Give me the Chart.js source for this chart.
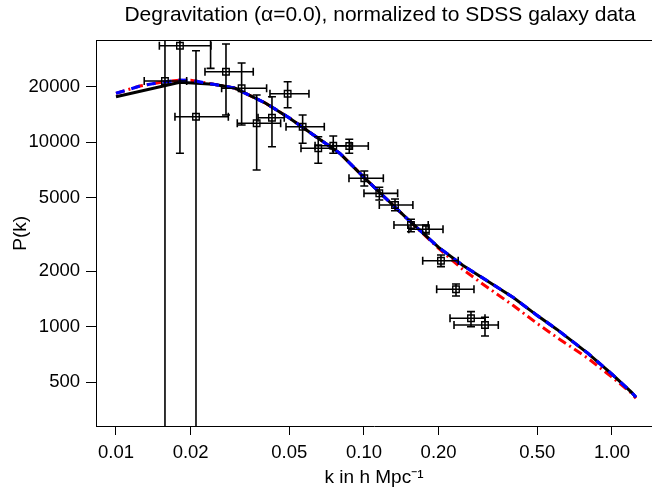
<!DOCTYPE html>
<html>
<head>
<meta charset="utf-8">
<script src="https://cdn.jsdelivr.net/npm/chart.js@4.4.1/dist/chart.umd.min.js"></script>
<style>
  html, body { margin: 0; padding: 0; background: #fff; overflow: hidden; }
  #wrap { width: 652px; height: 500px; }
  canvas { display: block; }
</style>
</head>
<body>
<div id="wrap"><canvas id="pkChart" width="652" height="500"></canvas></div>
<script>

// SDSS DATA POINTS (k, P(k) and error ranges)

const kData = [0.01576, 0.01811, 0.02102, 0.02407, 0.02777, 0.03211, 0.03692, 0.04256, 0.04923, 0.05658, 0.06541, 0.07519, 0.08723, 0.1003, 0.1153, 0.1334, 0.1547, 0.1778, 0.2044, 0.235, 0.2701, 0.3076];
const pData = [21460, 33320, 13740, 45000, 24090, 19590, 12660, 13570, 18310, 12130, 9267, 9573, 9537, 6375, 5285, 4568, 3559, 3374, 2281, 1596, 1112, 1023];
const kLo   = [0.01300, 0.01496, 0.01729, 0.0200, 0.02285, 0.02667, 0.03084, 0.0374, 0.04178, 0.04849, 0.05572, 0.0635, 0.07519, 0.0870, 0.1000, 0.1153, 0.1321, 0.1517, 0.1725, 0.1964, 0.2223, 0.2307];
const kHi   = [0.01928, 0.02415, 0.02838, 0.0290, 0.03577, 0.04050, 0.04613, 0.0477, 0.0600, 0.06918, 0.07478, 0.0887, 0.1041, 0.1197, 0.1367, 0.1575, 0.1816, 0.2083, 0.2399, 0.2777, 0.3076, 0.3480];
const pLo   = [1, 8708, 1, 25130, 14040, 12390, 7070, 9454, 15380, 9864, 7684, 8708, 8708, 5791, 4862, 4255, 3274, 3182, 2117, 1468, 1001, 891];
const pHi   = [1e6, 1e6, 31300, 1e6, 34040, 26860, 18020, 17640, 21270, 14040, 10710, 10800, 10370, 6982, 5697, 4923, 3823, 3559, 2449, 1705, 1208, 1126];

// MODEL CURVES

const curveK = [0.01, 0.0125, 0.015, 0.018, 0.02, 0.025, 0.03, 0.04, 0.05, 0.06, 0.08, 0.10, 0.12, 0.15, 0.2, 0.25, 0.3, 0.4, 0.5, 0.6, 0.8, 1.0, 1.2, 1.25];
const blueP  = [18400, 20160, 21060, 21670, 21650, 20540, 19660, 16310, 13540, 11380, 8695, 6453, 5093, 3828, 2692, 2155, 1846, 1441, 1150, 968, 718, 554, 441, 415];
const redP   = [18400, 20160, 21060, 21670, 21650, 20540, 19660, 16310, 13540, 11380, 8695, 6453, 5093, 3828, 2659, 2050, 1711, 1304, 1041, 876, 675, 534, 436, 410];

const blackK = [0.01, 0.0181, 0.0247, 0.03, 0.04, 0.05, 0.06, 0.08, 0.10, 0.12, 0.15, 0.2, 0.25, 0.3, 0.4, 0.5, 0.6, 0.8, 1.0, 1.2, 1.25];
const blackP = [17640, 21110, 20590, 19660, 16310, 13540, 11380, 8695, 6453, 5093, 3828, 2692, 2155, 1846, 1441, 1150, 968, 718, 554, 441, 415];

// AXES

const xTicks = [0.01, 0.02, 0.05, 0.10, 0.20, 0.50, 1.00];
const yTicks = [500, 1000, 2000, 5000, 10000, 20000];

const FONT = "'Liberation Sans', Arial, Helvetica, sans-serif";

function toXY(xs, ys){
  return xs.map((x, i) => ({x: x, y: ys[i]}));
}

// ERROR BARS + TOP BORDER + TITLE

const errorBars = {
  id: "errorBars",
  afterDatasetsDraw(chart){
    const ctx = chart.ctx;
    const area = chart.chartArea;
    const xs = chart.scales.x;
    const ys = chart.scales.y;
    const cap = 4;

    ctx.save();
    ctx.beginPath();
    ctx.rect(area.left, area.top, area.right - area.left, area.bottom - area.top);
    ctx.clip();
    ctx.strokeStyle = "#000";
    ctx.lineWidth = 1.6;

    kData.forEach((k, i) => {
      const px = xs.getPixelForValue(k);
      const py = ys.getPixelForValue(pData[i]);
      const x1 = xs.getPixelForValue(kLo[i]);
      const x2 = xs.getPixelForValue(kHi[i]);
      const y1 = ys.getPixelForValue(pLo[i]);
      const y2 = ys.getPixelForValue(pHi[i]);

      ctx.beginPath();
      ctx.moveTo(x1, py); ctx.lineTo(x2, py);
      ctx.moveTo(x1, py - cap); ctx.lineTo(x1, py + cap);
      ctx.moveTo(x2, py - cap); ctx.lineTo(x2, py + cap);
      ctx.moveTo(px, y1); ctx.lineTo(px, y2);
      ctx.moveTo(px - cap, y1); ctx.lineTo(px + cap, y1);
      ctx.moveTo(px - cap, y2); ctx.lineTo(px + cap, y2);
      ctx.stroke();
    });
    ctx.restore();
  },
  afterDraw(chart){
    const ctx = chart.ctx;
    const area = chart.chartArea;
    ctx.save();
    ctx.strokeStyle = "#000";
    ctx.lineWidth = 1;
    ctx.beginPath();
    ctx.moveTo(area.left, area.top);
    ctx.lineTo(area.right, area.top);
    ctx.stroke();

    ctx.fillStyle = "#000";
    ctx.font = "21px " + FONT;
    ctx.textAlign = "center";
    ctx.textBaseline = "alphabetic";
    ctx.fillText("Degravitation (\u03b1=0.0), normalized to SDSS galaxy data", 380, 21);
    ctx.restore();
  }
};

// no extra label padding, the plot box goes to the right edge
function noPad(scale){
  scale.paddingLeft = 0;
  scale.paddingRight = 0;
  scale.paddingTop = 0;
  scale.paddingBottom = 0;
}

const ctx = document.getElementById("pkChart");

new Chart(ctx, {
  type: "scatter",
  data: {
    datasets: [
      {
        label: "SDSS",
        data: toXY(kData, pData),
        showLine: false,
        pointStyle: "rect",
        pointRadius: 4.6,
        pointBorderWidth: 1.4,
        pointBorderColor: "#000",
        pointBackgroundColor: "rgba(0,0,0,0)",
        order: 0
      },
      {
        label: "blue",
        data: toXY(curveK, blueP),
        showLine: true,
        borderColor: "#0000ff",
        borderWidth: 3.2,
        borderDash: [9, 7],
        pointRadius: 0,
        order: 1
      },
      {
        label: "black",
        data: toXY(blackK, blackP),
        showLine: true,
        borderColor: "#000",
        borderWidth: 3,
        pointRadius: 0,
        order: 2
      },
      {
        label: "red",
        data: toXY(curveK, redP),
        showLine: true,
        borderColor: "#ff0000",
        borderWidth: 3,
        borderDash: [9, 4, 2, 4],
        pointRadius: 0,
        order: 3
      }
    ]
  },
  options: {
    responsive: false,
    animation: false,
    layout: { autoPadding: false, padding: { top: 40.5, left: 0, right: 0, bottom: 0 } },
    plugins: {
      legend: { display: false },
      title: { display: false },
      tooltip: { enabled: false }
    },
    scales: {
      x: {
        type: "logarithmic",
        min: 0.008307,
        max: 1.4502,
        afterBuildTicks: (scale) => { scale.ticks = xTicks.map(v => ({value: v})); },
        afterFit: (scale) => { scale.height = 74; noPad(scale); },
        ticks: {
          color: "#000",
          font: { family: FONT, size: 18.5 },
          padding: 7,
          maxRotation: 0,
          autoSkip: false,
          callback: (v) => Number(v).toFixed(2)
        },
        grid: { drawOnChartArea: false, drawTicks: true, tickLength: 9, color: "#000" },
        border: { display: true, color: "#000", width: 1 },
        title: {
          display: true,
          text: "k in h Mpc\u207b\u00b9",
          color: "#000",
          font: { family: FONT, size: 19 },
          padding: { top: 0, bottom: 11 }
        }
      },
      y: {
        type: "logarithmic",
        min: 290.1,
        max: 35560,
        afterBuildTicks: (scale) => { scale.ticks = yTicks.map(v => ({value: v})); },
        afterFit: (scale) => { scale.width = 96; noPad(scale); },
        ticks: {
          color: "#000",
          font: { family: FONT, size: 18.5 },
          padding: 6,
          autoSkip: false,
          callback: (v) => String(v)
        },
        grid: { drawOnChartArea: false, drawTicks: true, tickLength: 10, color: "#000" },
        border: { display: true, color: "#000", width: 1 },
        title: {
          display: true,
          text: "P(k)",
          color: "#000",
          font: { family: FONT, size: 19 },
          padding: { top: 9, bottom: 0 }
        }
      }
    }
  },
  plugins: [errorBars]
});
</script>
</body>
</html>
